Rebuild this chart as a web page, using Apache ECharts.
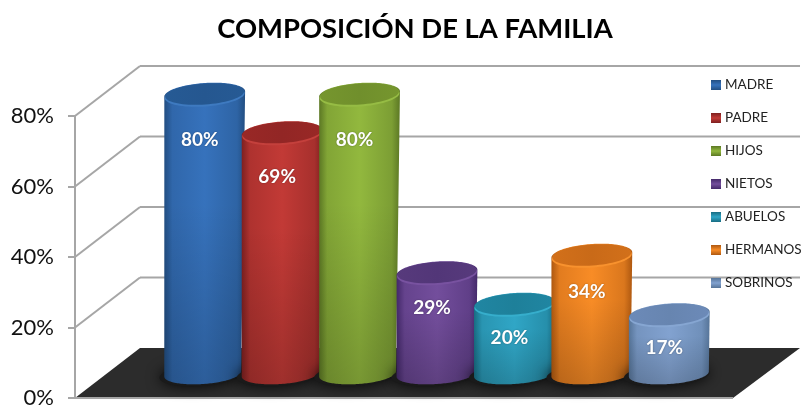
<!DOCTYPE html>
<html>
<head>
<meta charset="utf-8">
<style>html,body{margin:0;padding:0;background:#fff}#c{width:803px;height:407px}</style>
<script src="https://cdn.jsdelivr.net/npm/echarts@6/dist/echarts.min.js"></script>
</head>
<body>
<div id="c"></div>
<script>
const titleText = 'COMPOSICIÓN DE LA FAMILIA';
const categories = ['MADRE', 'PADRE', 'HIJOS', 'NIETOS', 'ABUELOS', 'HERMANOS', 'SOBRINOS'];
const values = [80, 69, 80, 29, 20, 34, 17];
const yTicks = [0, 20, 40, 60, 80];
// [edge, centre, top face, rim]
const palette = [
  ['#224E82', '#3672BC', '#265A94', '#3E7AC0'],
  ['#7E2020', '#C23A36', '#992826', '#C4403C'],
  ['#5C7824', '#92B83E', '#76962E', '#96BC44'],
  ['#44296A', '#734E9C', '#573A7C', '#7852A0'],
  ['#186C82', '#30A6C6', '#2086A2', '#36AECC'],
  ['#AE5810', '#F88C26', '#D2701A', '#F8922E'],
  ['#567498', '#82A2D0', '#6C8AB8', '#86A6D2']
];
const DEPTH_X = 65, DEPTH_Y = -50, TILT = -4 * Math.PI / 180, RY = 11;

function ellipsePts(cx, cy, rx, ry, from, to) {
  const pts = [], n = 72, c = Math.cos(TILT), s = Math.sin(TILT);
  for (let i = 0; i <= n; i++) {
    const t = from + (to - from) * i / n;
    const ex = rx * Math.cos(t), ey = ry * Math.sin(t);
    pts.push([cx + ex * c - ey * s, cy + ex * s + ey * c]);
  }
  return pts;
}
function hGrad(stops) {
  return new echarts.graphic.LinearGradient(0, 0, 1, 0, stops);
}

function renderWalls(params, api) {
  const v = api.value(1), cs = params.coordSys;
  const y = api.coord([0, v])[1], x0 = cs.x, x1 = cs.x + cs.width;
  const line = { stroke: '#A6A6A6', lineWidth: 2 };
  const children = [];
  if (v === yTicks[0]) {
    children.push({
      type: 'polygon',
      shape: { points: [[x0, y], [x1, y], [x1 + DEPTH_X + 2, y + DEPTH_Y], [x0 + DEPTH_X, y + DEPTH_Y]] },
      style: { fill: '#2C2C2C' }
    });
    children.push({ type: 'line', shape: { x1: x0, y1: y, x2: x1, y2: y }, style: line });
  } else {
    children.push({ type: 'line', shape: { x1: x0, y1: y, x2: x0 + DEPTH_X, y2: y + DEPTH_Y }, style: line });
    children.push({ type: 'line', shape: { x1: x0 + DEPTH_X, y1: y + DEPTH_Y, x2: x1 + DEPTH_X + 2, y2: y + DEPTH_Y }, style: line });
  }
  return { type: 'group', children };
}

function renderCylinder(params, api) {
  const i = params.seriesIndex - 1;
  const col = palette[i];
  const v = api.value(1);
  const top = api.coord([api.value(0), v]);
  const base = api.coord([api.value(0), 0]);
  const band = api.size([1, 0])[0];
  const rx = band * 0.523;
  const h = base[1] - top[1];
  const taper = 4 * h / 280;          // slight perspective narrowing towards the base
  const cx = top[0], rxB = rx - taper / 2, cxB = cx - taper / 2;
  const lower = ellipsePts(cxB, base[1], rxB, RY - 1, 0, Math.PI);
  const topBack = ellipsePts(cx, top[1], rx, RY, Math.PI, 2 * Math.PI);
  const body = topBack.concat(lower);
  const stops = [
    { offset: 0, color: col[0] },
    { offset: 0.1, color: echarts.color.lerp(0.7, [col[0], col[1]]) },
    { offset: 0.5, color: col[1] },
    { offset: 0.9, color: echarts.color.lerp(0.6, [col[0], col[1]]) },
    { offset: 1, color: col[0] }
  ];
  const rim = ellipsePts(cx, top[1] + 1.5, rx - 0.5, RY, 0, 2 * Math.PI);
  const face = ellipsePts(cx, top[1], rx - 1, RY - 0.5, 0, 2 * Math.PI);
  return {
    type: 'group',
    children: [
      { type: 'polygon', shape: { points: ellipsePts(cxB - 2, base[1] + 1, rxB + 3, RY, 0, 2 * Math.PI) },
        style: { fill: '#1A1A1A', shadowBlur: 14, shadowColor: 'rgba(0,0,0,0.85)' } },
      { type: 'polygon', shape: { points: body }, style: { fill: hGrad(stops) } },
      { type: 'polygon', shape: { points: body },
        style: { fill: new echarts.graphic.LinearGradient(0, 0, 0, 1, [
          { offset: 0, color: 'rgba(0,0,0,0)' }, { offset: 0.4, color: 'rgba(0,0,0,0)' },
          { offset: 1, color: 'rgba(0,0,0,0.18)' }]) } },
      { type: 'polygon', shape: { points: rim }, style: { fill: col[3] } },
      { type: 'polygon', shape: { points: face }, style: { fill: hGrad([
        { offset: 0, color: col[2] }, { offset: 0.5, color: echarts.color.lerp(0.25, [col[2], col[0]]) }, { offset: 1, color: col[2] }]) } },
      { type: 'text', style: {
          text: v + '%', x: cx - 5, y: top[1] + 29.5 + 0.06 * h,
          fill: '#fff', font: 'bold 19px Lato', align: 'center', verticalAlign: 'middle',
          textShadowColor: 'rgba(0,0,0,0.35)', textShadowBlur: 2 } }
    ]
  };
}

const chart = echarts.init(document.getElementById('c'), null, { renderer: 'canvas' });
chart.setOption({
  animation: false,
  backgroundColor: '#fff',
  title: {
    text: titleText, left: 410, top: 11, textAlign: 'center',
    textStyle: { fontFamily: 'Lato', fontWeight: 'bold', fontSize: 27.4, color: '#000' }
  },
  legend: {
    orient: 'vertical', left: 706, top: 73, itemWidth: 10, itemHeight: 10, itemGap: 19,
    selectedMode: false, icon: 'rect',
    data: categories,
    textStyle: { fontFamily: 'Lato', fontSize: 13.5, color: '#222', padding: [0, 0, 0, -1] }
  },
  grid: [
    { left: 75, top: 116, width: 658, height: 282, outerBoundsMode: 'none' },
    { left: 166, top: 94, width: 542, height: 280, outerBoundsMode: 'none' }
  ],
  xAxis: [
    { gridIndex: 0, type: 'category', data: [''], show: false },
    { gridIndex: 1, type: 'category', data: categories, show: false }
  ],
  yAxis: [
    { gridIndex: 0, type: 'value', min: 0, max: 80, interval: 20,
      axisLine: { show: true, lineStyle: { color: '#A6A6A6', width: 2 } },
      axisTick: { show: true, length: 7, lineStyle: { color: '#A6A6A6', width: 2 } },
      axisLabel: { formatter: '{value}%', margin: 21, fontFamily: 'Lato', fontSize: 22, color: '#111' },
      splitLine: { show: false } },
    { gridIndex: 1, type: 'value', min: 0, max: 80, show: false, splitLine: { show: false } }
  ],
  series: [
    { type: 'custom', name: 'walls', z: 1, xAxisIndex: 0, yAxisIndex: 0, clip: false, silent: true,
      data: yTicks.map(t => ['', t]), encode: { x: 0, y: 1 }, renderItem: renderWalls }
  ].concat(categories.map((name, i) => ({
    type: 'custom', name, z: 2, xAxisIndex: 1, yAxisIndex: 1, clip: false, silent: true,
    itemStyle: { color: new echarts.graphic.LinearGradient(0, 0, 0, 1, [
      { offset: 0, color: palette[i][0] }, { offset: 0.5, color: palette[i][1] }, { offset: 1, color: palette[i][0] }]) },
    data: [[name, values[i]]], encode: { x: 0, y: 1 }, renderItem: renderCylinder
  })))
});
</script>
</body>
</html>
